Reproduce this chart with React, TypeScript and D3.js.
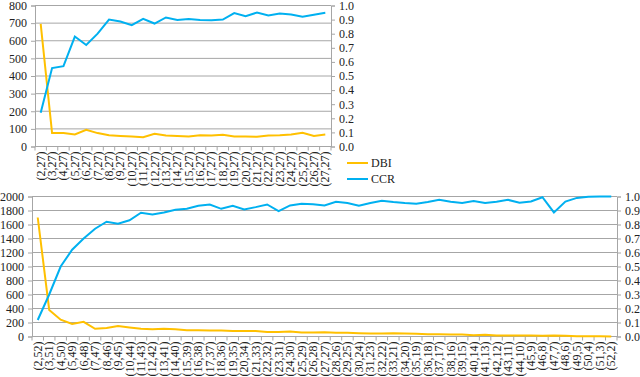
import React, { useEffect, useRef } from 'react';
import * as d3 from 'd3';

const topCategories = [
  '(2,27)', '(3,27)', '(4,27)', '(5,27)', '(6,27)', '(7,27)', '(8,27)', '(9,27)', '(10,27)',
  '(11,27)', '(12,27)', '(13,27)', '(14,27)', '(15,27)', '(16,27)', '(17,27)', '(18,27)',
  '(19,27)', '(20,27)', '(21,27)', '(22,27)', '(23,27)', '(24,27)', '(25,27)', '(26,27)', '(27,27)',
];
const topDBI = [696, 76, 76, 68, 95, 76, 64, 60, 57, 53, 72, 62, 59, 57, 64, 62, 66, 57, 57, 55, 62, 64, 68, 78, 60, 68];
const topCCR = [
  0.24, 0.556, 0.57, 0.78, 0.72, 0.8, 0.9, 0.887, 0.86, 0.905, 0.872, 0.915, 0.898,
  0.905, 0.898, 0.896, 0.9, 0.946, 0.924, 0.95, 0.93, 0.943, 0.936, 0.92, 0.935, 0.948,
];

const bottomCategories = [
  '(2,52)', '(3,51)', '(4,50)', '(5,49)', '(6,48)', '(7,47)', '(8,46)', '(9,45)', '(10,44)',
  '(11,43)', '(12,42)', '(13,41)', '(14,40)', '(15,39)', '(16,38)', '(17,37)', '(18,36)',
  '(19,35)', '(20,34)', '(21,33)', '(22,32)', '(23,31)', '(24,30)', '(25,29)', '(26,28)',
  '(27,27)', '(28,26)', '(29,25)', '(30,24)', '(31,23)', '(32,22)', '(33,21)', '(34,20)',
  '(35,19)', '(36,18)', '(37,17)', '(38,16)', '(39,15)', '(40,14)', '(41,13)', '(42,12)',
  '(43,11)', '(44,10)', '(45,9)', '(46,8)', '(47,7)', '(48,6)', '(49,5)', '(50,4)', '(51,3)', '(52,2)',
];
const bottomDBI = [
  1700, 380, 240, 180, 210, 110, 120, 150, 130, 110, 105, 110, 105, 90, 90, 85, 85,
  80, 80, 80, 66, 66, 70, 57, 57, 62, 52, 52, 47, 43, 43, 47, 43, 38, 32, 33, 28,
  28, 19, 24, 14, 14, 14, 14, 10, 14, 10, 5, 2, 2, 0,
];
const bottomCCR = [
  0.118, 0.3, 0.5, 0.62, 0.7, 0.77, 0.82, 0.806, 0.83, 0.884, 0.872, 0.886, 0.905,
  0.912, 0.934, 0.943, 0.912, 0.934, 0.908, 0.924, 0.943, 0.896, 0.936, 0.948, 0.945,
  0.936, 0.962, 0.953, 0.934, 0.953, 0.97, 0.96, 0.953, 0.948, 0.96, 0.976, 0.962,
  0.953, 0.967, 0.953, 0.962, 0.976, 0.955, 0.964, 0.995, 0.886, 0.964, 0.99, 0.998, 1.0, 1.0,
];

const topLeftTicks = [0, 100, 200, 300, 400, 500, 600, 700, 800];
const bottomLeftTicks = [0, 200, 400, 600, 800, 1000, 1200, 1400, 1600, 1800, 2000];
const rightTicks = [0, 0.1, 0.2, 0.3, 0.4, 0.5, 0.6, 0.7, 0.8, 0.9, 1.0];

const DBI_COLOR = '#ffc000';
const CCR_COLOR = '#00b0f0';
const GRID = '#a6a6a6';
const FONT = "'Liberation Serif', 'DejaVu Serif', serif";

function drawChart(svg, cats, dbi, ccr, leftTicks, box) {
  const g = svg.append('g');
  const x = d3.scaleBand().domain(cats).range([box.left, box.right]);
  const yL = d3.scaleLinear().domain([0, d3.max(leftTicks)]).range([box.bottom, box.top]);
  const yR = d3.scaleLinear().domain([0, 1]).range([box.bottom, box.top]);

  // gridlines
  g.selectAll('.grid')
    .data(leftTicks)
    .enter()
    .append('line')
    .attr('x1', box.left)
    .attr('x2', box.right)
    .attr('y1', (d) => yL(d))
    .attr('y2', (d) => yL(d))
    .attr('stroke', GRID)
    .attr('stroke-width', 1);

  // left axis
  const left = g
    .append('g')
    .attr('transform', `translate(${box.left},0)`)
    .call(d3.axisLeft(yL).tickValues(leftTicks).tickSize(4).tickPadding(4).tickFormat(d3.format('d')));
  left.attr('font-family', null);
  left.selectAll('path, line').attr('stroke', GRID);
  left.selectAll('text').style('font-family', FONT).style('font-size', '12px').attr('fill', '#222');

  // right axis
  const right = g
    .append('g')
    .attr('transform', `translate(${box.right},0)`)
    .call(d3.axisRight(yR).tickValues(rightTicks).tickSize(4).tickPadding(4).tickFormat(d3.format('.1f')));
  right.attr('font-family', null);
  right.selectAll('path, line').attr('stroke', GRID);
  right.selectAll('text').style('font-family', FONT).style('font-size', '12px').attr('fill', '#222');

  // bottom axis with ticks between categories
  g.append('line')
    .attr('x1', box.left)
    .attr('x2', box.right)
    .attr('y1', box.bottom)
    .attr('y2', box.bottom)
    .attr('stroke', GRID);
  g.selectAll('.xtick')
    .data(d3.range(cats.length + 1))
    .enter()
    .append('line')
    .attr('x1', (i) => box.left + i * x.step())
    .attr('x2', (i) => box.left + i * x.step())
    .attr('y1', box.bottom)
    .attr('y2', box.bottom + 4)
    .attr('stroke', GRID);
  g.selectAll('.xlabel')
    .data(cats)
    .enter()
    .append('text')
    .text((d) => d)
    .attr('transform', (d) => `translate(${x(d) + x.bandwidth() / 2 + 4},${box.bottom + 5}) rotate(-90)`)
    .attr('text-anchor', 'end')
    .style('font-family', FONT)
    .style('font-size', '12px')
    .attr('fill', '#222');

  const cx = (d, i) => x(cats[i]) + x.bandwidth() / 2;
  g.append('path')
    .datum(dbi)
    .attr('fill', 'none')
    .attr('stroke', DBI_COLOR)
    .attr('stroke-width', 2)
    .attr('d', d3.line().x(cx).y((d) => yL(d)));
  g.append('path')
    .datum(ccr)
    .attr('fill', 'none')
    .attr('stroke', CCR_COLOR)
    .attr('stroke-width', 2)
    .attr('d', d3.line().x(cx).y((d) => yR(d)));

  return g;
}

export default function App() {
  const ref = useRef(null);

  useEffect(() => {
    const svg = d3.select(ref.current);
    svg.selectAll('*').remove();

    drawChart(svg, topCategories, topDBI, topCCR, topLeftTicks, { left: 35, right: 331, top: 5.5, bottom: 146.5 });
    drawChart(svg, bottomCategories, bottomDBI, bottomCCR, bottomLeftTicks, { left: 32, right: 617, top: 196.5, bottom: 336.5 });

    // legend for the top chart
    const legend = svg.append('g');
    const items = [
      { name: 'DBI', color: DBI_COLOR },
      { name: 'CCR', color: CCR_COLOR },
    ];
    items.forEach((it, i) => {
      const y = 163 + i * 16;
      legend.append('line').attr('x1', 347).attr('x2', 368).attr('y1', y).attr('y2', y).attr('stroke', it.color).attr('stroke-width', 2);
      legend
        .append('text')
        .text(it.name)
        .attr('x', 371)
        .attr('y', y + 4)
        .style('font-family', FONT)
        .style('font-size', '12px')
        .attr('fill', '#222');
    });
  }, []);

  return (
    <div style={{ position: 'absolute', left: 0, top: 0 }}>
      <svg ref={ref} width={640} height={377} style={{ display: 'block', background: '#fff' }} />
    </div>
  );
}
